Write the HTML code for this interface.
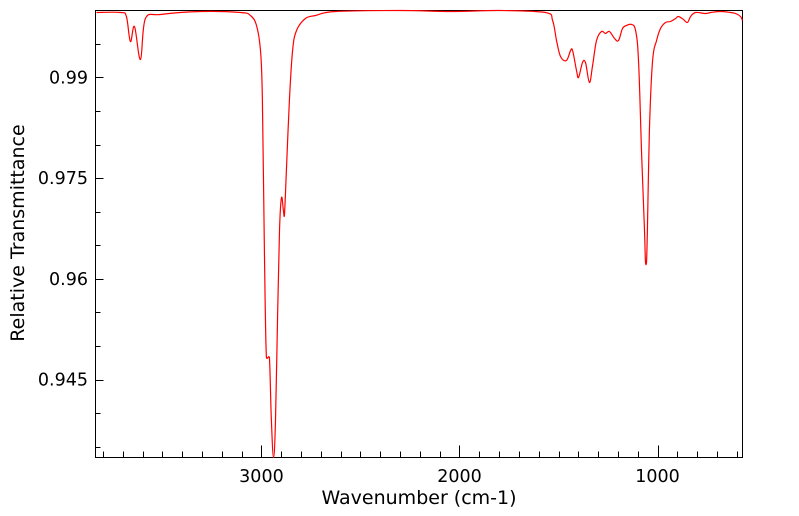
<!DOCTYPE html>
<html><head><meta charset="utf-8"><style>
body{margin:0;background:#fff;}
svg{display:block;font-family:"DejaVu Sans","Liberation Sans",sans-serif;}
</style></head><body>
<svg id="chart" width="799" height="516">
<rect x="95.5" y="10.5" width="647" height="447" fill="none" stroke="#000" stroke-width="1"/>
<g id="ticks"></g>
<path id="spectrum" fill="none" stroke="#ff0000" stroke-width="1.2"/>
<text x="419" y="504" font-size="19" text-anchor="middle">Wavenumber (cm-1)</text>
<text transform="translate(24,233) rotate(-90)" font-size="19" text-anchor="middle">Relative Transmittance</text>
</svg>
<script>
const wavenumbers=[3833,3712,3682,3662,3641,3611,3586,3510,3308,3106,3056,3025,3005,2995,2985,2975,2960,2950,2939,2929,2919,2909,2899,2889,2884,2874,2859,2843,2823,2778,2727,2626,2298,2045,1793,1566,1530,1510,1490,1460,1439,1429,1409,1399,1379,1364,1344,1328,1308,1283,1263,1243,1217,1197,1177,1157,1131,1111,1096,1081,1066,1061,1056,1051,1041,1025,1005,985,960,935,909,894,869,849,833,808,758,732,682,631,606,581,571];
const transmittance=[0.99968,0.99968,0.99909,0.99536,0.9976,0.99268,0.99879,0.99938,0.99983,0.99968,0.99924,0.99775,0.99402,0.98657,0.96423,0.94829,0.94829,0.9389,0.93339,0.9389,0.9538,0.96721,0.97212,0.97019,0.96944,0.97615,0.98657,0.99402,0.997,0.99879,0.99924,0.99983,0.99998,0.99983,0.99998,0.99968,0.99849,0.99551,0.99313,0.99253,0.99402,0.99402,0.99104,0.99,0.99223,0.99223,0.98926,0.99179,0.99551,0.99685,0.99655,0.99685,0.99581,0.99551,0.9973,0.99775,0.9979,0.997,0.99253,0.9791,0.96721,0.96244,0.96244,0.96721,0.9821,0.99253,0.99551,0.9973,0.99819,0.99834,0.99879,0.99909,0.99864,0.99819,0.99909,0.99968,0.99953,0.99968,0.99983,0.99968,0.99953,0.99909,0.99849];
const xTickLabels=[3000,2000,1000];
const yTickLabels=[0.945,0.96,0.975,0.99];
const X0=95.5,X1=742.5,Y0=10.5,Y1=457.5;
const wMax=3838,wMin=571,tMax=0.99998,tMin=0.93339;
function sx(w){return X0+(wMax-w)/(wMax-wMin)*(X1-X0);}
function sy(t){return Y0+(tMax-t)/(tMax-tMin)*(Y1-Y0);}
const ns="http://www.w3.org/2000/svg";
const pts=wavenumbers.map((w,i)=>[sx(w),sy(transmittance[i])]);
let d="M"+pts[0][0].toFixed(1)+","+pts[0][1].toFixed(1);
for(let i=0;i<pts.length-1;i++){
  const p0=pts[Math.max(0,i-1)],p1=pts[i],p2=pts[i+1],p3=pts[Math.min(pts.length-1,i+2)];
  const k=0.35;
  let c1y=p1[1]+(p2[1]-p0[1])*k/2, c2y=p2[1]-(p3[1]-p1[1])*k/2;
  const lo=Math.min(p1[1],p2[1]),hi=Math.max(p1[1],p2[1]);
  c1y=Math.min(Math.max(c1y,lo-3),hi+3);c2y=Math.min(Math.max(c2y,lo-3),hi+3);
  const c1x=p1[0]+(p2[0]-p0[0])*k/2, c2x=p2[0]-(p3[0]-p1[0])*k/2;
  d+="C"+c1x.toFixed(1)+","+c1y.toFixed(1)+" "+c2x.toFixed(1)+","+c2y.toFixed(1)+" "+p2[0].toFixed(1)+","+p2[1].toFixed(1);
}
document.getElementById("spectrum").setAttribute("d",d);
const g=document.getElementById("ticks");
function line(x1,y1,x2,y2){const l=document.createElementNS(ns,"line");l.setAttribute("x1",x1);l.setAttribute("y1",y1);l.setAttribute("x2",x2);l.setAttribute("y2",y2);l.setAttribute("stroke","#000");


g.appendChild(l);}
for(let w=3800;w>=600;w-=100){const x=Math.round(sx(w))+0.5;const major=w%1000===0;line(x,Y1,x,Y1-(major?12:6));}
for(let k=0;k<14;k++){const t=0.935+k*0.005;const y=Math.round(sy(t))+0.5;if(y<Y0||y>Y1)continue;const major=Math.abs((t*1000)%15)<0.01||Math.abs((t*1000)%15-15)<0.01;line(X0,y,X0+(major?8:5),y);}
xTickLabels.forEach(v=>{const t=document.createElementNS(ns,"text");t.setAttribute("x",sx(v));t.setAttribute("y",482);t.setAttribute("font-size","17.5");t.setAttribute("text-anchor","middle");t.textContent=v;


g.appendChild(t);});
yTickLabels.forEach(v=>{const t=document.createElementNS(ns,"text");t.setAttribute("x",88);t.setAttribute("y",sy(v)+6);t.setAttribute("font-size","17.5");t.setAttribute("text-anchor","end");t.textContent=v;


g.appendChild(t);});
</script>
</body></html>
